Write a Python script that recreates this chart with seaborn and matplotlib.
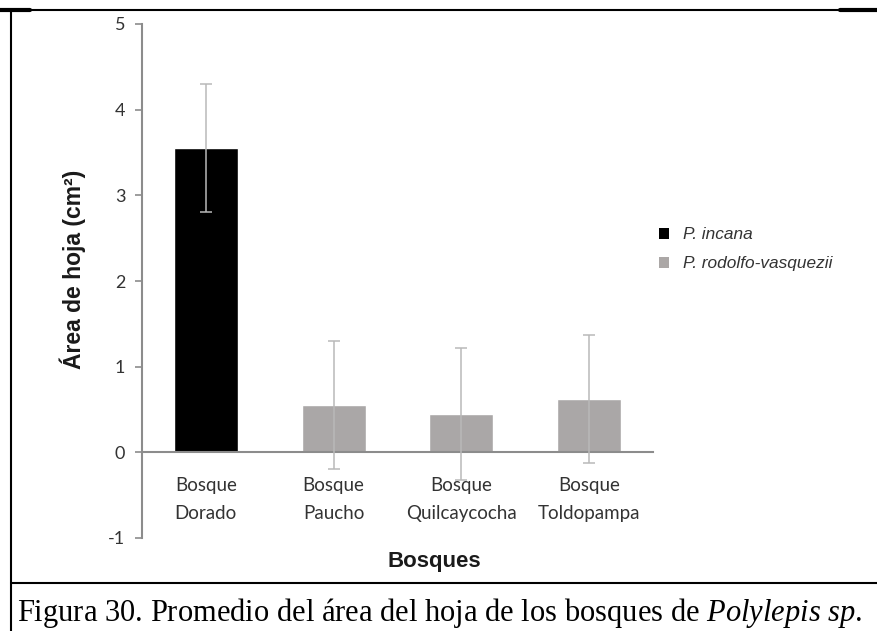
import matplotlib
matplotlib.use("Agg")
import matplotlib.pyplot as plt
import seaborn as sns
import pandas as pd
from matplotlib.patches import Patch
from matplotlib.lines import Line2D

# Leaf area per forest
bosques = ["Bosque\nDorado", "Bosque\nPaucho", "Bosque\nQuilcaycocha", "Bosque\nToldopampa"]
especie = ["P. incana", "P. rodolfo-vasquezii", "P. rodolfo-vasquezii", "P. rodolfo-vasquezii"]
area_media = [3.55, 0.55, 0.45, 0.62]
desv_est = [0.75, 0.75, 0.77, 0.75]
yticks = [-1, 0, 1, 2, 3, 4, 5]

colores = {"P. incana": "#000000", "P. rodolfo-vasquezii": "#aba7a6"}

df = pd.DataFrame({"bosque": bosques, "especie": especie, "area": area_media})

sns.set_theme(style="white")
plt.rcParams["font.family"] = ["Lato", "DejaVu Sans"]
plt.rcParams["mathtext.fontset"] = "custom"
plt.rcParams["mathtext.rm"] = "Liberation Serif"
plt.rcParams["mathtext.it"] = "Liberation Serif:italic"

fig = plt.figure(figsize=(8.77, 6.31), dpi=100)
ax = fig.add_axes([142 / 877, 1 - 538 / 631, (653 - 142) / 877, (538 - 24) / 631])

sns.barplot(data=df, x="bosque", y="area", hue="especie", palette=colores,
            dodge=False, width=0.5, ax=ax, legend=False, errorbar=None)

ax.errorbar(range(len(bosques)), area_media, yerr=desv_est, fmt="none",
            ecolor="#b9b9b9", elinewidth=1.1, capsize=4, capthick=1.1, zorder=3)

ax.set_ylim(-1, 5)
ax.set_xlim(-0.5, len(bosques) - 0.5)
ax.set_yticks(yticks)
ax.set_yticklabels([str(v) for v in yticks])

for side in ["top", "right"]:
    ax.spines[side].set_visible(False)
ax.spines["bottom"].set_position(("data", 0))
for side in ["left", "bottom"]:
    ax.spines[side].set_color("#8c8c8c")
    ax.spines[side].set_linewidth(1.5)

ax.tick_params(axis="y", left=True, length=5, width=1.2, color="#8c8c8c",
               labelsize=13, labelcolor="#333333", pad=7)
ax.tick_params(axis="x", bottom=False, length=0, labelsize=13.5,
               labelcolor="#333333", pad=18)
for lbl in ax.get_xticklabels():
    lbl.set_linespacing(1.75)

ax.set_xlabel("")
ax.set_ylabel("Área de hoja (cm²)", fontsize=16.5, fontweight="bold",
              family=["Liberation Sans", "DejaVu Sans"], color="#1a1a1a")
ax.yaxis.set_label_coords(-56 / 511, 0.522)
fig.text(434 / 877, 1 - 561 / 631, "Bosques", ha="center", va="center",
         fontsize=16, fontweight="bold", family=["Liberation Sans"], color="#1a1a1a")

handles = [Patch(facecolor=colores[k], edgecolor="none", label=k) for k in colores]
leg = fig.legend(handles=handles, loc="upper left", bbox_to_anchor=(643 / 877, 1 - 212 / 631),
                 frameon=False, handlelength=0.62, handleheight=0.62, handletextpad=0.8,
                 labelspacing=0.8, prop={"family": "Liberation Sans", "style": "italic", "size": 12.4})
for t in leg.get_texts():
    t.set_color("#333333")

# Frame and caption rows
fig.add_artist(Line2D([11 / 877, 1], [1 - 10 / 631] * 2, color="black", lw=1.5))
fig.add_artist(Line2D([0, 30 / 877], [1 - 10 / 631] * 2, color="black", lw=3))
fig.add_artist(Line2D([840 / 877, 1], [1 - 10 / 631] * 2, color="black", lw=3))
fig.add_artist(Line2D([11 / 877] * 2, [0, 1 - 10 / 631], color="black", lw=1.5))
fig.add_artist(Line2D([11 / 877, 1], [1 - 583 / 631] * 2, color="black", lw=1.5))

fig.text(17 / 877, 1 - 613 / 631,
         "Figura 30. Promedio del área del hoja de los bosques de $\\mathit{Polylepis\\ sp}$.",
         ha="left", va="center", fontsize=22, family=["Liberation Serif"], color="black")

fig.savefig("out.png", dpi=100)
